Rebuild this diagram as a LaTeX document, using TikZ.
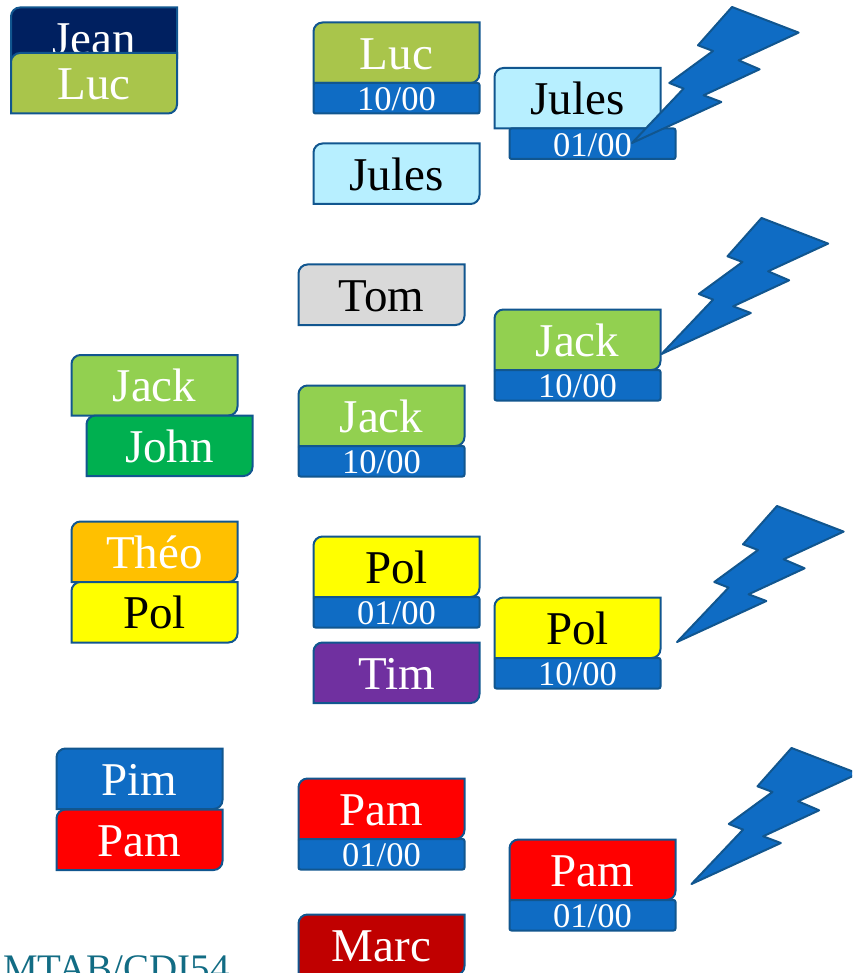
\documentclass[tikz,border=0pt]{standalone}
\usepackage{fontspec}
\setmainfont{Liberation Serif}
\usepackage{xcolor}
\usetikzlibrary{positioning}

\definecolor{edgeblue}{HTML}{11568F}
\definecolor{fillblue}{HTML}{0F6CC4}
\definecolor{lucgreen}{HTML}{A9C54B}
\definecolor{jeannavy}{HTML}{002060}
\definecolor{julesblue}{HTML}{B7EFFF}
\definecolor{tomgrey}{HTML}{D9D9D9}
\definecolor{jackgreen}{HTML}{92D050}
\definecolor{johngreen}{HTML}{00B050}
\definecolor{theoorange}{HTML}{FFC000}
\definecolor{polyellow}{HTML}{FFFF00}
\definecolor{timpurple}{HTML}{7030A0}
\definecolor{pamred}{HTML}{FF0000}
\definecolor{marcred}{HTML}{C00000}
\definecolor{signteal}{HTML}{126C84}

\newdimen\cardleft
\newdimen\cardlow
\newdimen\cardright
\newdimen\cardtop
\makeatletter
\pgfdeclareshape{diagcard}{
  \inheritsavedanchors[from=rectangle]
  \inheritanchorborder[from=rectangle]
  \inheritanchor[from=rectangle]{center}
  \inheritanchor[from=rectangle]{text}
  \inheritanchor[from=rectangle]{north}
  \inheritanchor[from=rectangle]{south}
  \inheritanchor[from=rectangle]{east}
  \inheritanchor[from=rectangle]{west}
  \inheritanchor[from=rectangle]{north west}
  \inheritanchor[from=rectangle]{south west}
  \backgroundpath{
    \southwest \global\cardleft=\pgf@x \global\cardlow=\pgf@y
    \northeast \global\cardright=\pgf@x \global\cardtop=\pgf@y
    \pgfpathmoveto{\pgfqpoint{\cardleft}{\cardlow}}
    \pgfpathlineto{\pgfpoint{\cardleft}{\cardtop-9pt}}
    \pgfpatharc{180}{90}{9pt}
    \pgfpathlineto{\pgfqpoint{\cardright}{\cardtop}}
    \pgfpathlineto{\pgfpoint{\cardright}{\cardlow+9pt}}
    \pgfpatharc{0}{-90}{9pt}
    \pgfpathclose
  }
}
\makeatother

\begin{document}
\begin{tikzpicture}[
            x=1pt, y=-1pt,
            card/.style={diagcard, draw=edgeblue, line width=2pt, anchor=north west,
              minimum width=166pt, minimum height=60.5pt, inner sep=0pt, outer sep=0pt,
              text height=33pt, text depth=0pt, font=\fontsize{47}{47}\selectfont},
            darkcard/.style={card, text=black},
            lightcard/.style={card, text=white},
            badge/.style={rectangle, rounded corners=2pt, draw=edgeblue, fill=fillblue, text=white,
              line width=2pt, minimum width=166pt, minimum height=30.5pt, inner sep=0pt, outer sep=0pt,
              text height=25pt, text depth=0pt, font=\fontsize{34.5}{34.5}\selectfont},
            flash/.pic={
              \draw[edgeblue, fill=fillblue, line width=2pt, line join=round]
                (0,0) -- (51.6,-54.4) -- (37.3,-60) -- (81,-92) -- (66,-97.7) -- (100,-136)
                -- (166.6,-110.4) -- (106.6,-82.7) -- (127.6,-73.7) -- (71.6,-47.7) -- (89.3,-41) -- cycle;
            }
          ]

          \clip (0,0) rectangle (852,973);

          % First row
          \node[lightcard, fill=jeannavy] (jean) at (11,7.5) {Jean};
          \node[lightcard, fill=lucgreen] (luca) at (11,53) {Luc};
          \node[lightcard, fill=lucgreen] (lucb) at (313.5,22.5) {Luc};
          \node[badge, below=0pt of lucb] (lucdate) {10/00};
          \node[darkcard, fill=julesblue] (julesa) at (313.5,143.5) {Jules};
          \node[darkcard, fill=julesblue] (julesb) at (494.5,68) {Jules};
          \node[badge, below=0pt of julesb, xshift=15pt] (julesdate) {01/00};
          \pic at (632,143) {flash};

          % Second row
          \node[darkcard, fill=tomgrey] (tom) at (298.5,264.5) {Tom};
          \node[lightcard, fill=jackgreen] (jacka) at (71.5,355) {Jack};
          \node[lightcard, fill=johngreen] (john) at (86.5,415.5) {John};
          \node[lightcard, fill=jackgreen] (jackb) at (298.5,385.5) {Jack};
          \node[badge, below=0pt of jackb] (jackbdate) {10/00};
          \node[lightcard, fill=jackgreen] (jackc) at (494.5,309.5) {Jack};
          \node[badge, below=0pt of jackc] (jackcdate) {10/00};
          \pic at (661.5,354) {flash};

          % Third row
          \node[lightcard, fill=theoorange] (theo) at (71.5,521.5) {Théo};
          \node[darkcard, fill=polyellow] (pola) at (71.5,582) {Pol};
          \node[darkcard, fill=polyellow] (polb) at (313.5,536.5) {Pol};
          \node[badge, below=0pt of polb] (polbdate) {01/00};
          \node[lightcard, fill=timpurple] (tim) at (313.5,642.5) {Tim};
          \node[darkcard, fill=polyellow] (polc) at (494.5,597.5) {Pol};
          \node[badge, below=0pt of polc] (polcdate) {10/00};
          \pic at (677,642) {flash};

          % Fourth row
          \node[lightcard, fill=fillblue] (pim) at (56.5,748.5) {Pim};
          \node[lightcard, fill=pamred] (pama) at (56.5,809.5) {Pam};
          \node[lightcard, fill=pamred] (pamb) at (298.5,778.5) {Pam};
          \node[badge, below=0pt of pamb] (pambdate) {01/00};
          \node[lightcard, fill=marcred] (marc) at (298.5,914.5) {Marc};
          \node[lightcard, fill=pamred] (pamc) at (509.5,839.5) {Pam};
          \node[badge, below=0pt of pamc] (pamcdate) {01/00};
          \pic at (691.5,884) {flash};

          % Sign at the foot of the page
          \node[anchor=base west, inner sep=0pt, text=signteal, font=\fontsize{39}{39}\selectfont] (sign) at (3,981) {MTAB/CDI54};

        \end{tikzpicture}
\end{document}
